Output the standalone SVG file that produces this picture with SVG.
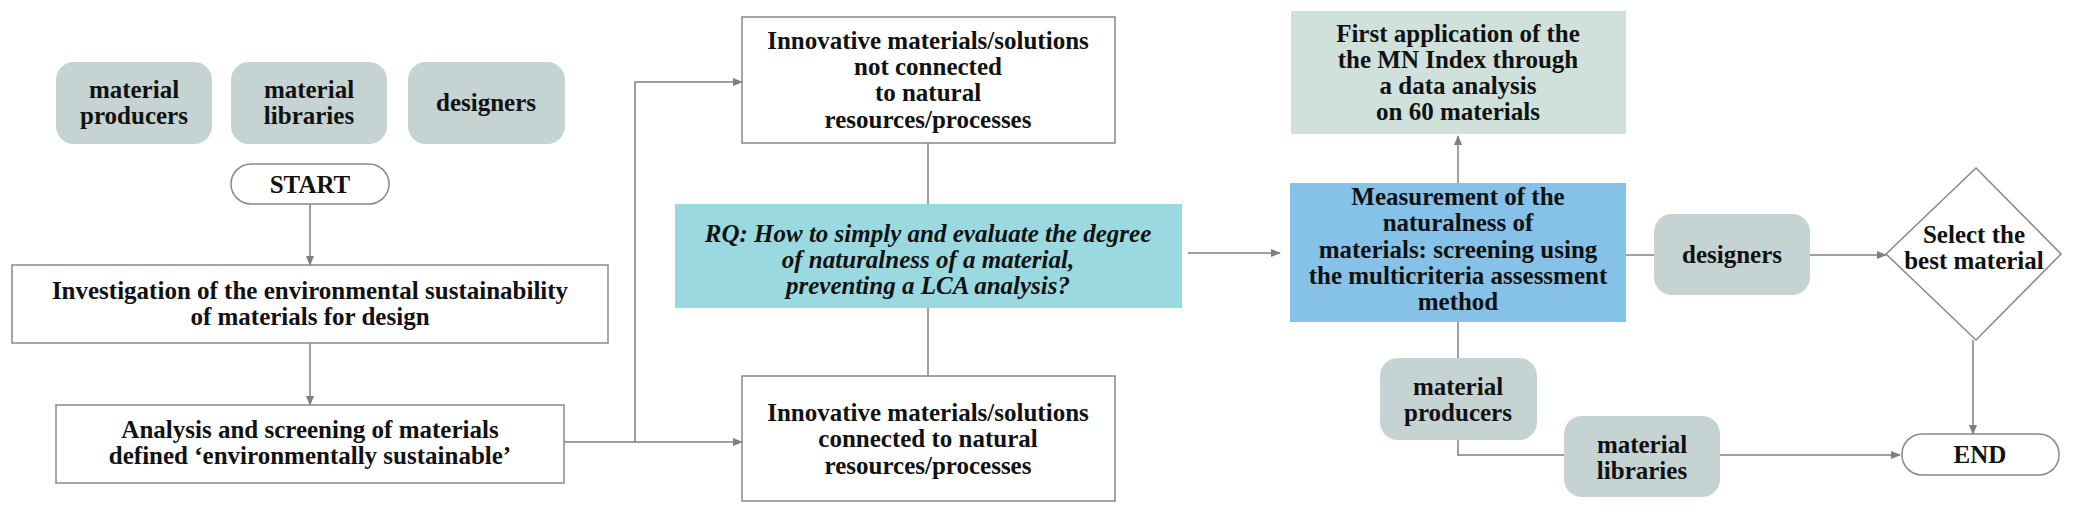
<svg xmlns="http://www.w3.org/2000/svg" width="2079" height="517" viewBox="0 0 2079 517">
<style>
text{font-family:"Liberation Serif",serif;font-weight:bold;font-size:25px;fill:#111;text-anchor:middle}
.g{fill:#c5d3d3}
.w{fill:#fff;stroke:#888;stroke-width:1.5}
.c{fill:none;stroke:#808080;stroke-width:1.5}
</style>
<defs><marker id="a" markerWidth="10" markerHeight="10" refX="9" refY="5" orient="auto" markerUnits="userSpaceOnUse"><path d="M0,1 L10,5 L0,9 z" fill="#808080"/></marker></defs>
<rect width="2079" height="517" fill="#fff"/>
<g id="connectors">
<path class="c" d="M310,204 V265" marker-end="url(#a)"/>
<path class="c" d="M310,343 V405" marker-end="url(#a)"/>
<path class="c" d="M564,442 H742" marker-end="url(#a)"/>
<path class="c" d="M635,442 V82 H742" marker-end="url(#a)"/>
<path class="c" d="M928,143 V204 M928,308 V376"/>
<path class="c" d="M1188,253 H1280" marker-end="url(#a)"/>
<path class="c" d="M1458,183 V136" marker-end="url(#a)"/>
<path class="c" d="M1626,255 H1654"/>
<path class="c" d="M1810,255 H1886" marker-end="url(#a)"/>
<path class="c" d="M1973,340 V434" marker-end="url(#a)"/>
<path class="c" d="M1458,322 V358 M1458,440 V455 H1564"/>
<path class="c" d="M1720,455 H1900" marker-end="url(#a)"/>
</g>
<g id="n_prod1"><rect class="g" x="56" y="62" width="156" height="82" rx="18"/><text x="134" y="98">material</text><text x="134" y="124">producers</text></g>
<g id="n_lib1"><rect class="g" x="231" y="62" width="156" height="82" rx="18"/><text x="309" y="98">material</text><text x="309" y="124">libraries</text></g>
<g id="n_des1"><rect class="g" x="408" y="62" width="157" height="82" rx="18"/><text x="486" y="111">designers</text></g>
<g id="n_start"><rect class="w" x="231" y="164" width="158" height="40" rx="20"/><text x="310" y="193">START</text></g>
<g id="n_invest"><rect class="w" x="12" y="265" width="596" height="78"/><text x="310" y="299">Investigation of the environmental sustainability</text><text x="310" y="325">of materials for design</text></g>
<g id="n_analysis"><rect class="w" x="56" y="405" width="508" height="78"/><text x="310" y="438">Analysis and screening of materials</text><text x="310" y="464">defined ‘environmentally sustainable’</text></g>
<g id="n_notconn"><rect class="w" x="742" y="17" width="373" height="126"/><text x="928" y="49">Innovative materials/solutions</text><text x="928" y="75">not connected</text><text x="928" y="101">to natural</text><text x="928" y="128">resources/processes</text></g>
<g id="n_rq"><rect x="675" y="204" width="507" height="104" fill="#9bd9e0"/><text x="928" y="242" font-style="italic">RQ: How to simply and evaluate the degree</text><text x="928" y="268" font-style="italic">of naturalness of a material,</text><text x="928" y="294" font-style="italic">preventing a LCA analysis?</text></g>
<g id="n_conn"><rect class="w" x="742" y="376" width="373" height="125"/><text x="928" y="421">Innovative materials/solutions</text><text x="928" y="447">connected to natural</text><text x="928" y="474">resources/processes</text></g>
<g id="n_first"><rect x="1291" y="11" width="335" height="123" fill="#d0e1dc"/><text x="1458" y="42">First application of the</text><text x="1458" y="68">the MN Index through</text><text x="1458" y="94">a data analysis</text><text x="1458" y="120">on 60 materials</text></g>
<g id="n_measure"><rect x="1290" y="183" width="336" height="139" fill="#86c2e8"/><text x="1458" y="205">Measurement of the</text><text x="1458" y="231">naturalness of</text><text x="1458" y="258">materials: screening using</text><text x="1458" y="284">the multicriteria assessment</text><text x="1458" y="310">method</text></g>
<g id="n_des2"><rect class="g" x="1654" y="214" width="156" height="81" rx="18"/><text x="1732" y="263">designers</text></g>
<g id="n_select"><polygon class="w" points="1976,168 2061,254 1976,340 1886,254"/><text x="1974" y="243">Select the</text><text x="1974" y="269">best material</text></g>
<g id="n_prod2"><rect class="g" x="1380" y="358" width="157" height="82" rx="18"/><text x="1458" y="395">material</text><text x="1458" y="421">producers</text></g>
<g id="n_lib2"><rect class="g" x="1564" y="416" width="156" height="81" rx="18"/><text x="1642" y="453">material</text><text x="1642" y="479">libraries</text></g>
<g id="n_end"><rect class="w" x="1902" y="434" width="157" height="41" rx="20"/><text x="1980" y="463">END</text></g>
</svg>
